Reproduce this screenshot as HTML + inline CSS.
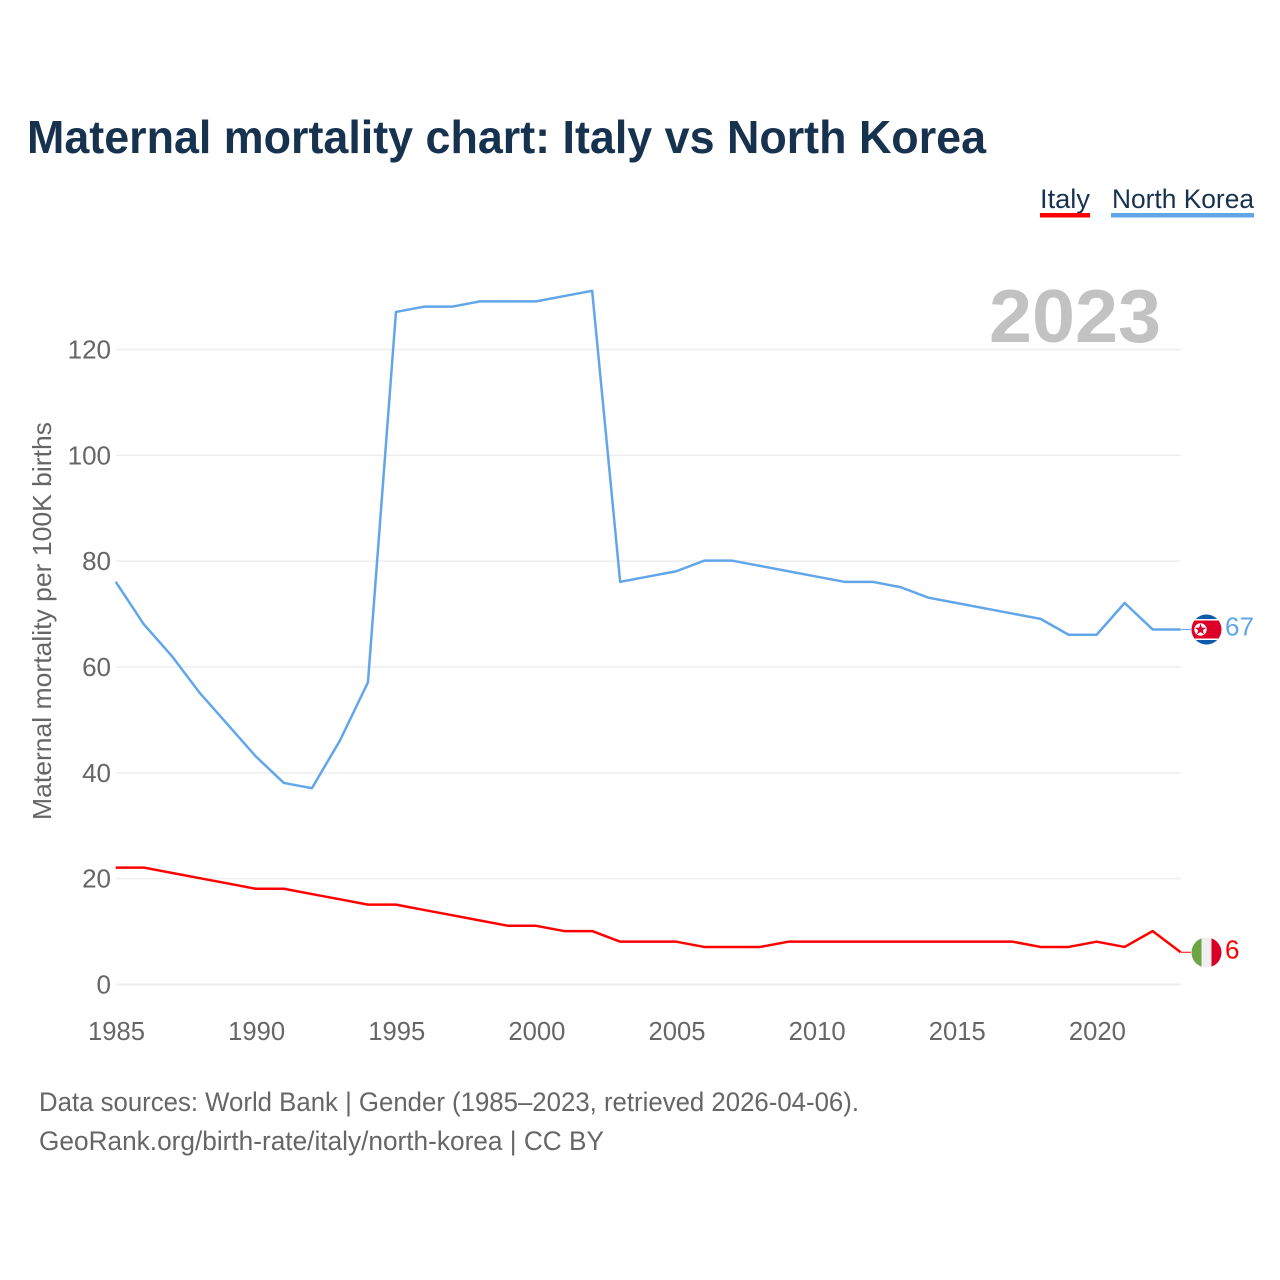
<!DOCTYPE html>
<html>
<head>
<meta charset="utf-8">
<style>
html,body{margin:0;padding:0;background:#fff;}
svg{display:block;}
text{font-family:"Liberation Sans",sans-serif;}
</style>
</head>
<body>
<svg id="chart" width="1280" height="1280" viewBox="0 0 1280 1280" xmlns="http://www.w3.org/2000/svg">
  <rect x="0" y="0" width="1280" height="1280" fill="#ffffff"/>
  <text x="27" y="153" font-size="46" font-weight="700" fill="#17324f" textLength="959" lengthAdjust="spacingAndGlyphs">Maternal mortality chart: Italy vs North Korea</text>
  <g id="legend">
    <text x="1040" y="208" font-size="27" fill="#17324f" textLength="50" lengthAdjust="spacingAndGlyphs">Italy</text>
    <rect x="1040" y="213" width="50" height="4.5" fill="#ff0000"/>
    <text x="1112" y="208" font-size="27" fill="#17324f" textLength="142" lengthAdjust="spacingAndGlyphs">North Korea</text>
    <rect x="1111" y="213" width="143" height="4.5" fill="#62a6ea"/>
  </g>
  <text x="1161" y="342" font-size="75" font-weight="700" fill="#c2c2c2" text-anchor="end" textLength="172" lengthAdjust="spacingAndGlyphs">2023</text>
  <g id="grid"></g>
  <g id="yticks"></g>
  <g id="xticks"></g>
  <text transform="translate(51,621) rotate(-90)" font-size="26" fill="#666666" text-anchor="middle" textLength="398" lengthAdjust="spacingAndGlyphs">Maternal mortality per 100K births</text>
  <g id="series"></g>

  <defs>
    <clipPath id="clip-nk"><circle cx="1206.5" cy="629.5" r="15"/></clipPath>
    <clipPath id="clip-it"><circle cx="1206.5" cy="952.5" r="15"/></clipPath>
  </defs>
  <g clip-path="url(#clip-nk)">
    <rect x="1191" y="614" width="31" height="31" fill="#0b5cad"/>
    <rect x="1191" y="619" width="31" height="21" fill="#ffffff"/>
    <rect x="1191" y="620.5" width="31" height="18" fill="#dc0028"/>
    <circle cx="1200.5" cy="629.5" r="6.2" fill="#ffffff"/>
    <polygon points="1200.5,623.6 1201.9,627.6 1206.1,627.7 1202.8,630.3 1204,634.4 1200.5,632 1197,634.4 1198.2,630.3 1194.9,627.7 1199.1,627.6" fill="#dc0028"/>
  </g>
  <g clip-path="url(#clip-it)">
    <rect x="1191" y="937" width="11" height="31" fill="#6da544"/>
    <rect x="1201.5" y="937" width="10.5" height="31" fill="#f0f0f0"/>
    <rect x="1211.5" y="937" width="11" height="31" fill="#d80027"/>
  </g>

  <text x="39" y="1111" font-size="27" fill="#666666" textLength="820" lengthAdjust="spacingAndGlyphs">Data sources: World Bank | Gender (1985–2023, retrieved 2026-04-06).</text>
  <text x="39" y="1150" font-size="27" fill="#666666" textLength="565" lengthAdjust="spacingAndGlyphs">GeoRank.org/birth-rate/italy/north-korea | CC BY</text>
</svg>
<script>
const years = [1985,1986,1987,1988,1989,1990,1991,1992,1993,1994,1995,1996,1997,1998,1999,2000,2001,2002,2003,2004,2005,2006,2007,2008,2009,2010,2011,2012,2013,2014,2015,2016,2017,2018,2019,2020,2021,2022,2023];
const italyValues = [22,22,21,20,19,18,18,17,16,15,15,14,13,12,11,11,10,10,8,8,8,7,7,7,8,8,8,8,8,8,8,8,8,7,7,8,7,10,6];
const northKoreaValues = [76,68,62,55,49,43,38,37,46,57,127,128,128,129,129,129,130,131,76,77,78,80,80,79,78,77,76,76,75,73,72,71,70,69,66,66,72,67,67];
const yTickValues = [0,20,40,60,80,100,120];
const xTickValues = [1985,1990,1995,2000,2005,2010,2015,2020];

const NS = 'http://www.w3.org/2000/svg';
const xScale = function (year) { return 116 + (year - 1985) * (1181 - 116) / (2023 - 1985); };
const yScale = function (v) { return 984.5 - v * (984.5 - 349.5) / 120; };
const flagX = 1191;

const grid = document.getElementById('grid');
const yticks = document.getElementById('yticks');
const xticks = document.getElementById('xticks');
const series = document.getElementById('series');

yTickValues.forEach(function (v) {
  const line = document.createElementNS(NS, 'line');
  
  
  line.setAttribute('x1', 116);
  line.setAttribute('x2', 1181);
  line.setAttribute('y1', yScale(v));
  line.setAttribute('y2', yScale(v));
  line.setAttribute('stroke', '#eeeeee');
  line.setAttribute('stroke-width', v === 0 ? 2 : 1.5);
  grid.appendChild(line);

  const label = document.createElementNS(NS, 'text');
  
  
  label.setAttribute('x', 111);
  label.setAttribute('y', yScale(v) + 9);
  label.setAttribute('font-size', 26);
  label.setAttribute('fill', '#666666');
  label.setAttribute('text-anchor', 'end');
  label.textContent = String(v);
  yticks.appendChild(label);
});

xTickValues.forEach(function (yr) {
  const label = document.createElementNS(NS, 'text');
  
  
  label.setAttribute('x', xScale(yr) + 0.5);
  label.setAttribute('y', 1040);
  label.setAttribute('font-size', 26);
  label.setAttribute('fill', '#666666');
  label.setAttribute('text-anchor', 'middle');
  label.setAttribute('textLength', 57);
  label.setAttribute('lengthAdjust', 'spacingAndGlyphs');
  label.textContent = String(yr);
  xticks.appendChild(label);
});

function drawSeries(values, color, lineName, connectorName, labelName) {
  const path = document.createElementNS(NS, 'polyline');
  
  
  path.setAttribute('points', values.map(function (v, i) { return (xScale(years[i]) - 0.3) + ',' + (yScale(v) - 0.5); }).join(' '));
  path.setAttribute('fill', 'none');
  path.setAttribute('stroke', color);
  path.setAttribute('stroke-width', 2.5);
  path.setAttribute('stroke-linejoin', 'round');
  series.appendChild(path);

  const last = values[values.length - 1];
  const conn = document.createElementNS(NS, 'line');
  
  
  conn.setAttribute('x1', 1181);
  conn.setAttribute('x2', flagX);
  conn.setAttribute('y1', yScale(last) - 0.5);
  conn.setAttribute('y2', yScale(last) - 0.5);
  conn.setAttribute('stroke', color);
  conn.setAttribute('stroke-width', 1);
  series.appendChild(conn);

  const label = document.createElementNS(NS, 'text');
  
  
  label.setAttribute('x', 1225);
  label.setAttribute('y', yScale(last) + 5.5);
  label.setAttribute('font-size', 26);
  label.setAttribute('fill', color);
  label.textContent = String(last);
  series.appendChild(label);
}

drawSeries(northKoreaValues, '#62a6ea', 'north-korea-line', 'north-korea-connector', 'north-korea-end-value');
drawSeries(italyValues, '#ff0000', 'italy-line', 'italy-connector', 'italy-end-value');
</script>
</body>
</html>
